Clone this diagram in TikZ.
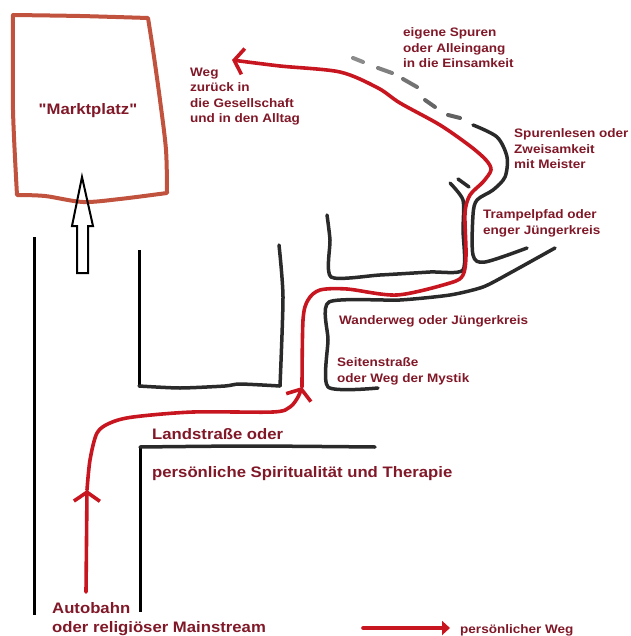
\documentclass[tikz,border=0pt]{standalone}
\usepackage{fontspec}
\newfontfamily\lblfont{Liberation Sans}[FakeStretch=1.1]
\usetikzlibrary{arrows.meta}
\definecolor{txtred}{RGB}{128,24,40}
\definecolor{pathred}{RGB}{200,22,32}
\definecolor{brick}{RGB}{192,82,62}
\definecolor{roadgray}{RGB}{42,42,42}
\begin{document}
\begin{tikzpicture}[x=1pt,y=-1pt,
  lbl/.style={font=\lblfont\bfseries\fontsize{12.3}{15.6}\selectfont, text=txtred, inner sep=0pt, align=left, anchor=base west},
  biglbl/.style={lbl, font=\lblfont\bfseries\fontsize{15.2}{19}\selectfont},
  road/.style={line width=3.5pt, draw=roadgray, line cap=round, line join=round},
  sharp/.style={line width=3pt, draw=black},
  way/.style={line width=3.6pt, draw=pathred, line cap=round, line join=round},
  barb/.style={-{Straight Barb[length=9pt,width=26pt]}},
  trace/.style={line width=4pt, line cap=round}]
\useasboundingbox (0,0) rectangle (630,636);

% market place box
\draw[brick, line width=4pt, line join=round]
  plot[smooth, tension=0.4] coordinates {(13,15) (80,16) (148,18)}
  -- plot[smooth, tension=0.5] coordinates {(148,18) (153,50) (160,100) (166,150) (167,193)}
  -- plot[smooth, tension=0.5] coordinates {(167,193) (120,199) (83,202) (45,196) (17,195)}
  -- plot[smooth, tension=0.5] coordinates {(17,195) (13,110) (13,15)} -- cycle;
\node[biglbl, anchor=base] (markt) at (88,115) {"Marktplatz"};

% hollow arrow
\draw[black, line width=2pt, line join=miter] (77,273) -- (77,226) -- (72,226) -- (82,177) -- (93,226) -- (88,226) -- (88,273) -- cycle;

% roads
\draw[sharp] (34,237) -- (34,615);
\draw[sharp] (139,250) -- (139,386);
\draw[road] plot[smooth, tension=0.4] coordinates {(139,386) (180,388) (225,386) (240,384) (280,386)};
\draw[road] plot[smooth, tension=0.4] coordinates {(280,386) (283,297) (279,245)};
\draw[sharp] (140,447) -- (140,612);
\draw[road] plot[smooth, tension=0.4] coordinates {(140,447) (250,446) (375,447)};
\draw[road] plot[smooth, tension=0.4] coordinates {(327,215) (330,240) (331,277) (380,275) (430,272) (463,270) (463,230) (463,200) (450,183)};
\draw[road] plot[smooth, tension=0.4] coordinates {(378,388) (328,387) (328,340) (329,302) (400,300) (450,295) (483,287) (510,273) (555,248)};
\draw[road] plot[smooth, tension=0.5] coordinates {(473,125) (497,137) (507,157) (505,177) (493,190) (477,200) (473,215) (473,255) (485,262) (527,248)};
\draw[road] (458,179) -- (469,187);

% fading traces
\draw[trace, black!45] (353,58) -- (363,62);
\draw[trace, black!50] (378,68) -- (392,73);
\draw[trace, black!55] (403,79) -- (417,87);
\draw[trace, black!60] (425,100) -- (435,107);
\draw[trace, black!62] (448,115) -- (460,118);

% personal way
\draw[way, barb] (86,592) -- (87,490);
\draw[way, barb] plot[smooth, tension=0.5] coordinates {(87,490) (90,460) (97,433) (110,423) (133,417) (193,412) (273,412) (290,407) (298,397) (302,387)};
\draw[way, barb] plot[smooth, tension=0.5] coordinates {(302,387) (303,320) (308,300) (320,290) (347,289) (397,295) (450,283) (463,275) (466,255) (465,213) (470,195) (483,182) (491,170) (486,160) (470,146) (440,125) (400,103) (378,88) (340,72) (280,66) (232,60)};

% legend
\draw[way, -{Triangle[length=8pt,width=14pt]}] (363,628) -- (450,628);
\node[lbl] (legend) at (460,633) {persönlicher Weg};

% labels (base anchor = baseline of last line)
\node[lbl] (back) at (190,123) {Weg\\zurück in\\die Gesellschaft\\und in den Alltag};
\node[lbl] (own) at (403,68) {eigene Spuren\\oder Alleingang\\in die Einsamkeit};
\node[lbl] (master) at (514,169) {Spurenlesen oder\\Zweisamkeit\\mit Meister};
\node[lbl] (tramp) at (483,234) {Trampelpfad oder\\enger Jüngerkreis};
\node[lbl] (wander) at (339,324) {Wanderweg oder Jüngerkreis};
\node[lbl] (side) at (337,382) {Seitenstraße\\oder Weg der Mystik};
\node[biglbl] (land) at (152,439) {Landstraße oder};
\node[biglbl] (pers) at (152,477) {persönliche Spiritualität und Therapie};
\node[biglbl] (auto) at (52,632) {Autobahn\\oder religiöser Mainstream};
\end{tikzpicture}
\end{document}
